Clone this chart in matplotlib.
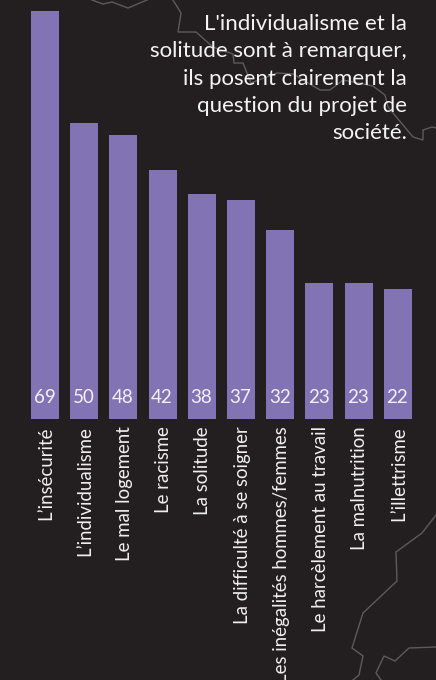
import matplotlib
matplotlib.use("Agg")
import matplotlib.pyplot as plt

categories = ["L’insécurité", "L’individualisme", "Le mal logement", "Le racisme",
              "La solitude", "La difficulté à se soigner", "Les inégalités hommes/femmes",
              "Le harcèlement au travail", "La malnutrition", "L’illettrisme"]
values = [69, 50, 48, 42, 38, 37, 32, 23, 23, 22]
note_lines = ["L'individualisme et la", "solitude sont à remarquer,", "ils posent clairement la",
              "question du projet de", "société."]

# Decorative map outlines, in pixels from the top-left corner
outline_a = [(92, 0), (103, 4), (112, 2), (128, 8), (147, 0)]
outline_b = [(173, 0), (181, 13), (178, 32), (196, 32), (213, 47), (233, 54), (234, 63), (243, 63),
             (251, 83), (277, 73), (293, 74), (320, 90), (330, 90), (343, 80), (373, 86), (385, 95),
             (388, 107), (413, 137), (423, 140), (423, 130), (432, 127), (436, 128)]
outline_c = [(436, 515), (422, 533), (396, 552), (397, 581), (363, 613), (352, 648), (363, 656),
             (359, 675), (353, 680)]
outline_d = [(436, 647), (409, 648), (395, 661), (384, 656), (376, 673), (381, 680)]

WIDTH, HEIGHT = 436, 680
BG = "#231f20"
BAR = "#8274b4"
FONT = "Lato"
BASE_Y = 419      # pixel row of the bars' baseline
PX_PER_UNIT = 5.92
STEP = 39.2       # pixel distance between bars
FIRST_X = 45

fig = plt.figure(figsize=(WIDTH / 100, HEIGHT / 100), dpi=100, facecolor=BG)

# Overlay in pixel coordinates for the map outlines
bg = fig.add_axes([0, 0, 1, 1], zorder=0)
bg.set_xlim(0, WIDTH)
bg.set_ylim(HEIGHT, 0)
bg.axis("off")
for outline in (outline_a, outline_b, outline_c, outline_d):
    bg.plot(*zip(*outline), color="#5c5a5b", lw=1.0, solid_joinstyle="miter")

ax = fig.add_axes([0, 0, 1, 1], zorder=1)
ax.patch.set_alpha(0)
ax.set_xlim(-FIRST_X / STEP, (WIDTH - FIRST_X) / STEP)
ax.set_ylim(-(HEIGHT - BASE_Y) / PX_PER_UNIT, BASE_Y / PX_PER_UNIT)
positions = list(range(len(categories)))
ax.bar(positions, values, width=28 / STEP, color=BAR)
for x, v in zip(positions, values):
    ax.annotate(str(v), (x, 0), xytext=(-0.5, 21.5), textcoords="offset pixels", ha="center",
                va="center", color="#f2f0f6", fontsize=13.5, family=FONT)
    ax.annotate(categories[x], (x, 0), xytext=(1, -7), textcoords="offset pixels", rotation=90,
                ha="center", va="top", color="#f0f0f0", fontsize=13.4, family=FONT,
                annotation_clip=False)
for s in ax.spines.values():
    s.set_visible(False)
ax.set_xticks([])
ax.set_yticks([])

fig.text(407 / WIDTH, 1 - 14 / HEIGHT, "\n".join(note_lines), ha="right", va="top", multialignment="right",
         color="#f4f4f4", fontsize=16, family=FONT, linespacing=1.46, zorder=3)

fig.savefig("out.png", dpi=100, facecolor=BG)
